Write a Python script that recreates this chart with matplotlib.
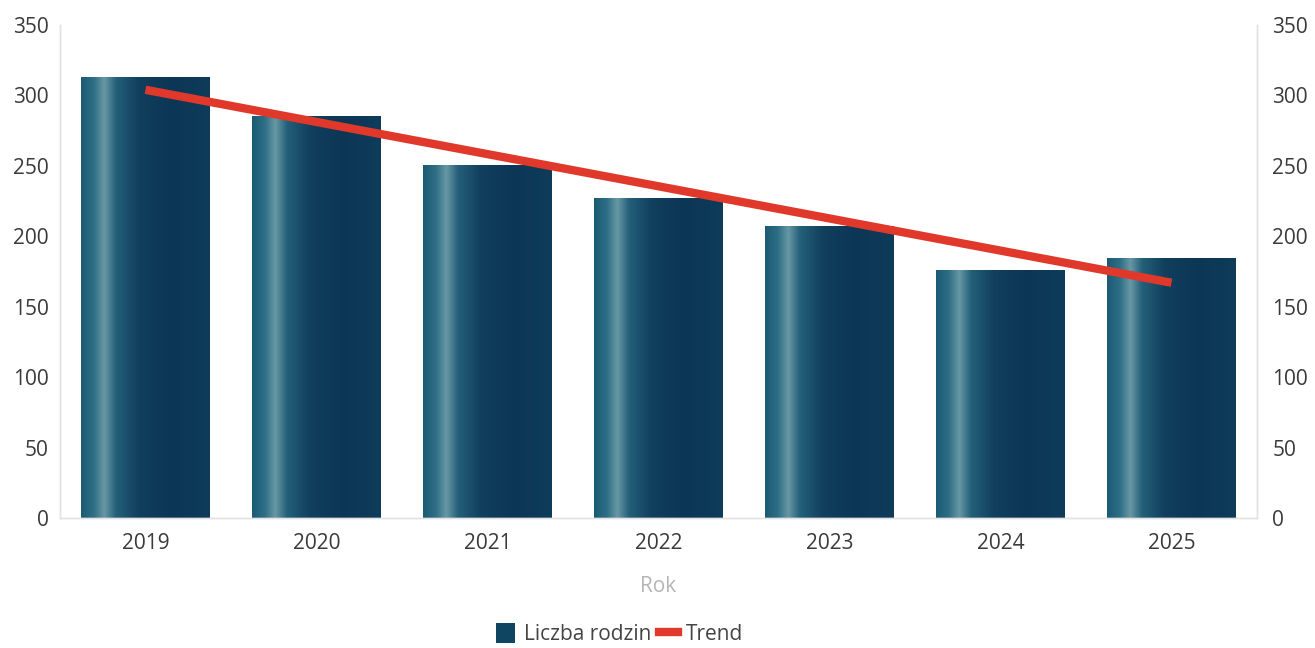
import numpy as np
import matplotlib
matplotlib.use("Agg")
import matplotlib.pyplot as plt
from matplotlib.colors import LinearSegmentedColormap
from matplotlib.patches import Patch
from matplotlib.lines import Line2D

plt.rcParams["font.family"] = ["Open Sans", "DejaVu Sans"]

years = ["2019", "2020", "2021", "2022", "2023", "2024", "2025"]
families = [313, 285, 250, 227, 207, 176, 184]
trend_years = ["2019", "2025"]
trend_values = [304, 167]

fig = plt.figure(figsize=(13.15, 6.48), dpi=100)
ax = fig.add_axes([60 / 1315, 130 / 648, 1197 / 1315, 493 / 648])

x = np.arange(len(years))
width = 0.75

# cylinder-like shading for the bars
cyl = LinearSegmentedColormap.from_list(
    "cyl",
    [(0.0, "#1a5a74"), (0.1, "#2f6f86"), (0.18, "#6898a4"), (0.27, "#24607a"),
     (0.45, "#113f5e"), (0.7, "#0c3656"), (1.0, "#0f3c5b")],
)
grad = np.linspace(0, 1, 256).reshape(1, -1)

bars = ax.bar(x, families, width=width, color="#0f3b58", zorder=2)
for b in bars:
    x0, w, h = b.get_x(), b.get_width(), b.get_height()
    ax.imshow(grad, cmap=cyl, aspect="auto", extent=(x0, x0 + w, 0, h),
              zorder=2.5, interpolation="bicubic")

ax.set_xlim(-0.5, len(years) - 0.5)
ax.set_ylim(0, 350)

tx = [years.index(y) for y in trend_years]
ax.plot(tx, trend_values, color="#e0392b", lw=6, zorder=4, solid_capstyle="butt")

fs = 15
ax.set_xticks(x)
ax.set_xticklabels(years)
ax.set_yticks(range(0, 351, 50))
ax.tick_params(axis="both", length=0, labelsize=fs, colors="#3a3a3a")
ax.tick_params(axis="x", pad=11)
ax.tick_params(axis="y", pad=8)
ax.set_xlabel("Rok", color="#b5b5b5", fontsize=fs, labelpad=16)

ax2 = ax.twinx()
ax2.set_ylim(0, 350)
ax2.set_yticks(range(0, 351, 50))
ax2.tick_params(axis="y", length=0, labelsize=fs, colors="#3a3a3a", pad=11)

for a in (ax, ax2):
    a.spines["top"].set_visible(False)
    for s in ("left", "right", "bottom"):
        a.spines[s].set_color("#e2e2e2")
        a.spines[s].set_linewidth(1)

handles = [
    Patch(facecolor="#0f4560", edgecolor="none"),
    Line2D([0], [0], color="#e0392b", lw=6),
]
fig.legend(handles, ["Liczba rodzin", "Trend"], loc="center",
           bbox_to_anchor=(620 / 1315, 1 - 634 / 648), ncol=2, frameon=False,
           fontsize=fs, handlelength=0.9, handleheight=1.1, handletextpad=0.4,
           columnspacing=0.4, labelcolor="#444444")

fig.savefig("out.png", dpi=100)
